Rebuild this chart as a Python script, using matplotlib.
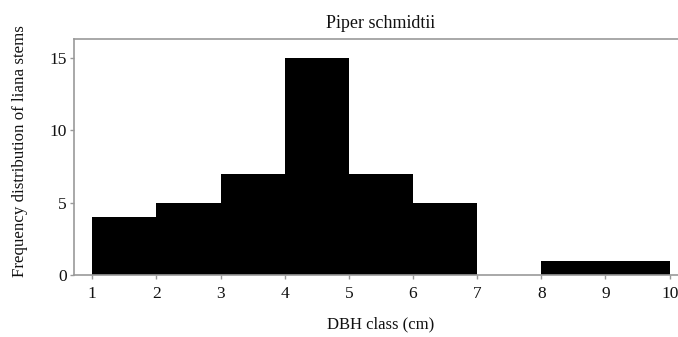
import matplotlib.pyplot as plt
import numpy as np

plt.rcParams['font.family'] = ['Liberation Serif', 'DejaVu Serif']

# DBH class edges (cm) and number of liana stems per class
bin_left = [1, 2, 3, 4, 5, 6, 7, 8, 9]
counts = [4, 5, 7, 15, 7, 5, 0, 1, 1]
xticks = list(range(1, 11))
yticks = [0, 5, 10, 15]

fig = plt.figure(figsize=(6.78, 3.37), dpi=100)
ax = fig.add_axes([0.109, 0.184, 0.891, 0.700])

ax.bar(bin_left, counts, width=1, align='edge', color='black', linewidth=0)

ax.set_xlim(0.715, 10.13)
ax.set_ylim(0, 16.29)
ax.set_xticks(xticks)
ax.set_yticks(yticks)

grey = '#999999'
for side in ['left', 'top', 'bottom']:
    ax.spines[side].set_color(grey)
    ax.spines[side].set_linewidth(1.2)
ax.spines['right'].set_visible(False)
ax.tick_params(axis='both', colors=grey, length=3, width=1, labelsize=12.5, labelcolor='#111111')
ax.tick_params(axis='x', pad=5)
ax.tick_params(axis='y', pad=2)

ax.set_title('Piper schmidtii', fontsize=13, pad=8, color='#111111')
ax.title.set_x(0.508)
ax.set_xlabel('DBH class (cm)', fontsize=12, color='#111111')
ax.xaxis.set_label_coords(0.507, -0.175)
ax.set_ylabel('Frequency distribution of liana stems', fontsize=12.2, color='#111111')
ax.yaxis.set_label_coords(-0.076, 0.525)

fig.savefig('out.png', dpi=100)
